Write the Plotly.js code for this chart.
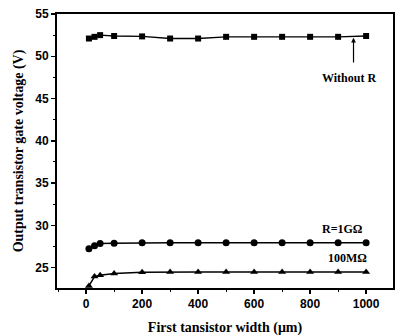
<!DOCTYPE html>
<html><head><meta charset="utf-8">
<script src="https://cdn.plot.ly/plotly-3.0.1.min.js"></script>
<style>html,body{margin:0;padding:0;background:#fff}#c{width:395px;height:336px}</style>
</head><body><div id="c"></div>
<script>
const widths = [10, 30, 50, 100, 200, 300, 400, 500, 600, 700, 800, 900, 1000];
const withoutR = [52.1, 52.3, 52.5, 52.4, 52.35, 52.1, 52.1, 52.3, 52.3, 52.3, 52.3, 52.3, 52.4];
const r1G = [27.25, 27.6, 27.85, 27.9, 27.95, 27.95, 27.95, 27.95, 27.95, 27.95, 27.95, 27.95, 27.95];
const r100M = [22.85, 23.95, 24.1, 24.3, 24.45, 24.5, 24.5, 24.5, 24.5, 24.5, 24.5, 24.5, 24.5];
const xTicks = [0, 200, 400, 600, 800, 1000];
const yTicks = [25, 30, 35, 40, 45, 50, 55];

const line = {color: '#000', width: 1.5};
const traces = [
  {x: widths, y: withoutR, mode: 'lines+markers', line: {color: '#000', width: 1.3}, marker: {symbol: 'square', size: 6, color: '#000'}},
  {x: widths, y: r1G, mode: 'lines+markers', line: line, marker: {symbol: 'circle', size: 7, color: '#000'}},
  {x: widths, y: r100M, mode: 'lines+markers', line: line, marker: {symbol: 'triangle-up', size: 7, color: '#000'}}
];
const tickFont = {family: 'Liberation Sans, Arial, sans-serif', size: 12, color: '#000', weight: 'bold'};
const titleFont = {family: 'Liberation Serif, Times New Roman, serif', size: 14, color: '#000', weight: 'bold'};
const annFont = {family: 'Liberation Serif, Times New Roman, serif', size: 12, color: '#000', weight: 'bold'};
const layout = {
  width: 395, height: 336,
  margin: {l: 57, r: 2, t: 14, b: 48},
  showlegend: false,
  plot_bgcolor: '#fff', paper_bgcolor: '#fff',
  xaxis: {
    range: [-104, 1096], tickvals: xTicks, ticktext: xTicks.map(String),
    ticks: 'outside', ticklen: 4, tickwidth: 1.5, tickcolor: '#000',
    minor: {dtick: 100, ticks: 'outside', ticklen: 2, tickwidth: 1, tickcolor: '#000', showgrid: false},
    showline: true, linewidth: 2, linecolor: '#000', mirror: true,
    showgrid: false, zeroline: false, tickfont: tickFont,
    title: {text: 'First tansistor width (μm)', font: titleFont, standoff: 12}
  },
  yaxis: {
    range: [22.6, 55], tickvals: yTicks, ticktext: yTicks.map(String),
    ticks: 'outside', ticklen: 4, tickwidth: 1.5, tickcolor: '#000',
    minor: {dtick: 2.5, tick0: 0, ticks: 'outside', ticklen: 2, tickwidth: 1, tickcolor: '#000', showgrid: false},
    showline: true, linewidth: 2, linecolor: '#000', mirror: true,
    showgrid: false, zeroline: false, tickfont: tickFont,
    title: {text: 'Output transistor gate voltage (V)', font: titleFont, standoff: 8}
  },
  annotations: [
    {x: 955, y: 52.2, ax: 955, ay: 49.1, axref: 'x', ayref: 'y', xref: 'x', yref: 'y',
     showarrow: true, arrowhead: 2, arrowsize: 0.8, arrowwidth: 1.2, arrowcolor: '#000', text: ''},
    {x: 940, y: 47.4, xref: 'x', yref: 'y', text: 'Without R', showarrow: false, font: annFont},
    {x: 914, y: 29.6, xref: 'x', yref: 'y', text: 'R=1GΩ', showarrow: false, font: annFont},
    {x: 932, y: 26.1, xref: 'x', yref: 'y', text: '100MΩ', showarrow: false, font: annFont}
  ]
};
Plotly.newPlot('c', traces, layout, {displayModeBar: false, staticPlot: true});
</script></body></html>
